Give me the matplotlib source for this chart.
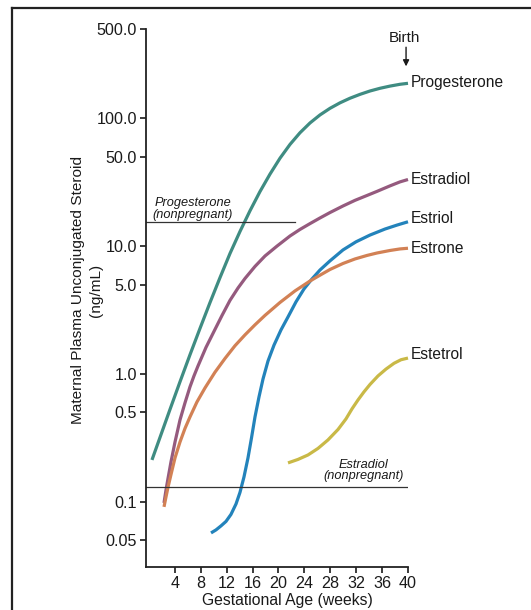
import matplotlib
matplotlib.use("Agg")
import matplotlib.pyplot as plt
from matplotlib.lines import Line2D
from matplotlib.ticker import FixedLocator, NullLocator

plt.rcParams['font.family'] = ['Liberation Sans', 'DejaVu Sans']

# 孕周 (weeks) 与血浆浓度 (ng/mL)
prog_x = [0.46, 1.70, 3.24, 4.79, 6.33, 7.88, 9.42, 10.97, 12.51, 14.05, 15.60, 17.14, 18.69,
          20.23, 21.78, 23.32, 24.87, 26.41, 27.95, 29.50, 31.04, 32.59, 34.13, 35.68, 37.22, 38.76, 40]
prog_y = [0.212, 0.318, 0.526, 0.867, 1.41, 2.27, 3.61, 5.67, 8.75, 13.0, 18.9, 26.7, 36.6,
          48.7, 62.5, 77.1, 92.0, 106.3, 119.7, 132.2, 143.6, 154.0, 163.6, 171.8, 178.7, 184.6, 187.9]

e2_x = [2.32, 2.63, 2.93, 3.40, 4.02, 4.79, 5.56, 6.33, 6.95, 7.57, 8.80, 10.04, 11.27, 12.51, 13.75,
        14.83, 16.37, 17.92, 19.77, 21.78, 23.32, 24.87, 26.41, 27.95, 29.96, 31.81, 33.67, 35.21,
        37.22, 38.76, 40]
e2_y = [0.0977, 0.1236, 0.151, 0.205, 0.293, 0.436, 0.593, 0.791, 0.964, 1.153, 1.61, 2.15, 2.86, 3.76,
        4.70, 5.58, 6.93, 8.37, 10.0, 12.0, 13.5, 15.0, 16.6, 18.3, 20.6, 22.8, 24.9, 26.8,
        29.6, 31.8, 33.2]

e1_x = [2.32, 2.63, 2.93, 3.40, 4.02, 4.79, 5.56, 6.33, 7.41, 8.65, 10.19, 11.74, 13.28, 14.83,
        16.37, 17.92, 20.23, 22.55, 24.87, 25.95, 27.95, 29.96, 31.81, 33.67, 35.21, 37.22, 38.76, 40]
e1_y = [0.0910, 0.109, 0.129, 0.163, 0.220, 0.293, 0.374, 0.460, 0.603, 0.776, 1.03, 1.32, 1.66, 2.02,
        2.42, 2.87, 3.62, 4.46, 5.33, 5.74, 6.56, 7.31, 7.93, 8.45, 8.83, 9.24, 9.50, 9.62]

e3_x = [9.58, 10.35, 11.12, 11.89, 12.66, 13.44, 14.05, 14.67, 15.29, 15.83, 16.37, 16.99, 17.61,
        18.38, 19.31, 20.39, 21.47, 22.70, 23.94, 25.17, 26.41, 27.95, 29.96, 31.97, 34.13, 36.45,
        38.30, 40]
e3_y = [0.0569, 0.0601, 0.0646, 0.0700, 0.0794, 0.0959, 0.118, 0.156, 0.220, 0.315, 0.460, 0.660,
        0.912, 1.26, 1.68, 2.21, 2.79, 3.66, 4.62, 5.53, 6.50, 7.66, 9.33, 10.8, 12.2, 13.6, 14.6, 15.5]

e4_x = [21.47, 23.01, 24.56, 26.10, 27.64, 29.19, 30.42, 31.35, 32.28, 33.20, 34.13, 35.37, 36.60,
        37.84, 38.92, 40]
e4_y = [0.201, 0.214, 0.232, 0.261, 0.304, 0.367, 0.444, 0.532, 0.625, 0.723, 0.826, 0.964, 1.09,
        1.21, 1.29, 1.33]

names = ['Progesterone', 'Estradiol', 'Estriol', 'Estrone', 'Estetrol']
colors = ['#3f8c82', '#955a7e', '#2383bb', '#d28155', '#c9b947']

prog_nonpreg = 15.4   # 非孕期孕酮
e2_nonpreg = 0.13     # 非孕期雌二醇

yticks = [0.05, 0.1, 0.5, 1.0, 5.0, 10.0, 50.0, 100.0, 500.0]
ytick_labels = ['0.05', '0.1', '0.5', '1.0', '5.0', '10.0', '50.0', '100.0', '500.0']
xticks = [4, 8, 12, 16, 20, 24, 28, 32, 36, 40]

txt = '#1a1a1a'

fig = plt.figure(figsize=(5.31, 6.10), dpi=100)
ax = fig.add_axes([146/531, 1-567/610, 262/531, 538/610])

series = [(prog_x, prog_y), (e2_x, e2_y), (e3_x, e3_y), (e1_x, e1_y), (e4_x, e4_y)]
for (xs, ys), c in zip(series, colors):
    ax.plot(xs, ys, color=c, lw=2.3, solid_capstyle='butt', solid_joinstyle='round', clip_on=False)

# 非孕期参考线
ax.plot([-0.46, 22.5], [prog_nonpreg, prog_nonpreg], color='#333333', lw=0.9)
ax.plot([-0.46, 40], [e2_nonpreg, e2_nonpreg], color='#333333', lw=0.9)
ax.text(6.8, 19.5, 'Progesterone\n(nonpregnant)', style='italic', fontsize=9.2,
        ha='center', va='center', color=txt, linespacing=0.95)
ax.text(33.2, 0.175, 'Estradiol\n(nonpregnant)', style='italic', fontsize=9.2,
        ha='center', va='center', color=txt, linespacing=0.95)

# 曲线右侧标签
label_y = [191, 33.4, 16.5, 9.6, 1.41]
for n, ly in zip(names, label_y):
    ax.text(40.4, ly, n, fontsize=11.2, ha='left', va='center', color=txt, clip_on=False)

ax.text(39.5, 422, 'Birth', fontsize=11, ha='center', va='center', color=txt, clip_on=False)
ax.annotate('', xy=(39.7, 255), xytext=(39.7, 360), annotation_clip=False,
            arrowprops=dict(arrowstyle='-|>', color=txt, lw=1.0, mutation_scale=9,
                            shrinkA=0, shrinkB=0))

ax.set_yscale('log')
ax.set_ylim(0.0308, 500)
ax.set_xlim(-0.46, 40)
ax.yaxis.set_major_locator(FixedLocator(yticks))
ax.yaxis.set_minor_locator(NullLocator())
ax.set_yticklabels(ytick_labels)
ax.set_xticks(xticks)
ax.set_xticklabels([str(t) for t in xticks])
ax.tick_params(axis='both', labelsize=11.6, length=4.5, width=1.2, colors=txt, pad=2)

for s in ['top', 'right']:
    ax.spines[s].set_visible(False)
for s in ['left', 'bottom']:
    ax.spines[s].set_linewidth(1.3)
    ax.spines[s].set_color('#222222')

fig.text(287/531, 1-601/610, 'Gestational Age (weeks)', fontsize=11.3, ha='center', va='center', color=txt)
fig.text(87/531, 1-290/610, 'Maternal Plasma Unconjugated Steroid\n(ng/mL)', fontsize=11.1,
         rotation=90, ha='center', va='center', color=txt, linespacing=1.35, multialignment='center')

# 外框线
fig.add_artist(Line2D([12/531, 1], [1-8/610, 1-8/610], color='#222222', lw=1.6))
fig.add_artist(Line2D([12/531, 12/531], [0, 1-8/610], color='#222222', lw=1.6))

fig.savefig('out.png', dpi=100)
